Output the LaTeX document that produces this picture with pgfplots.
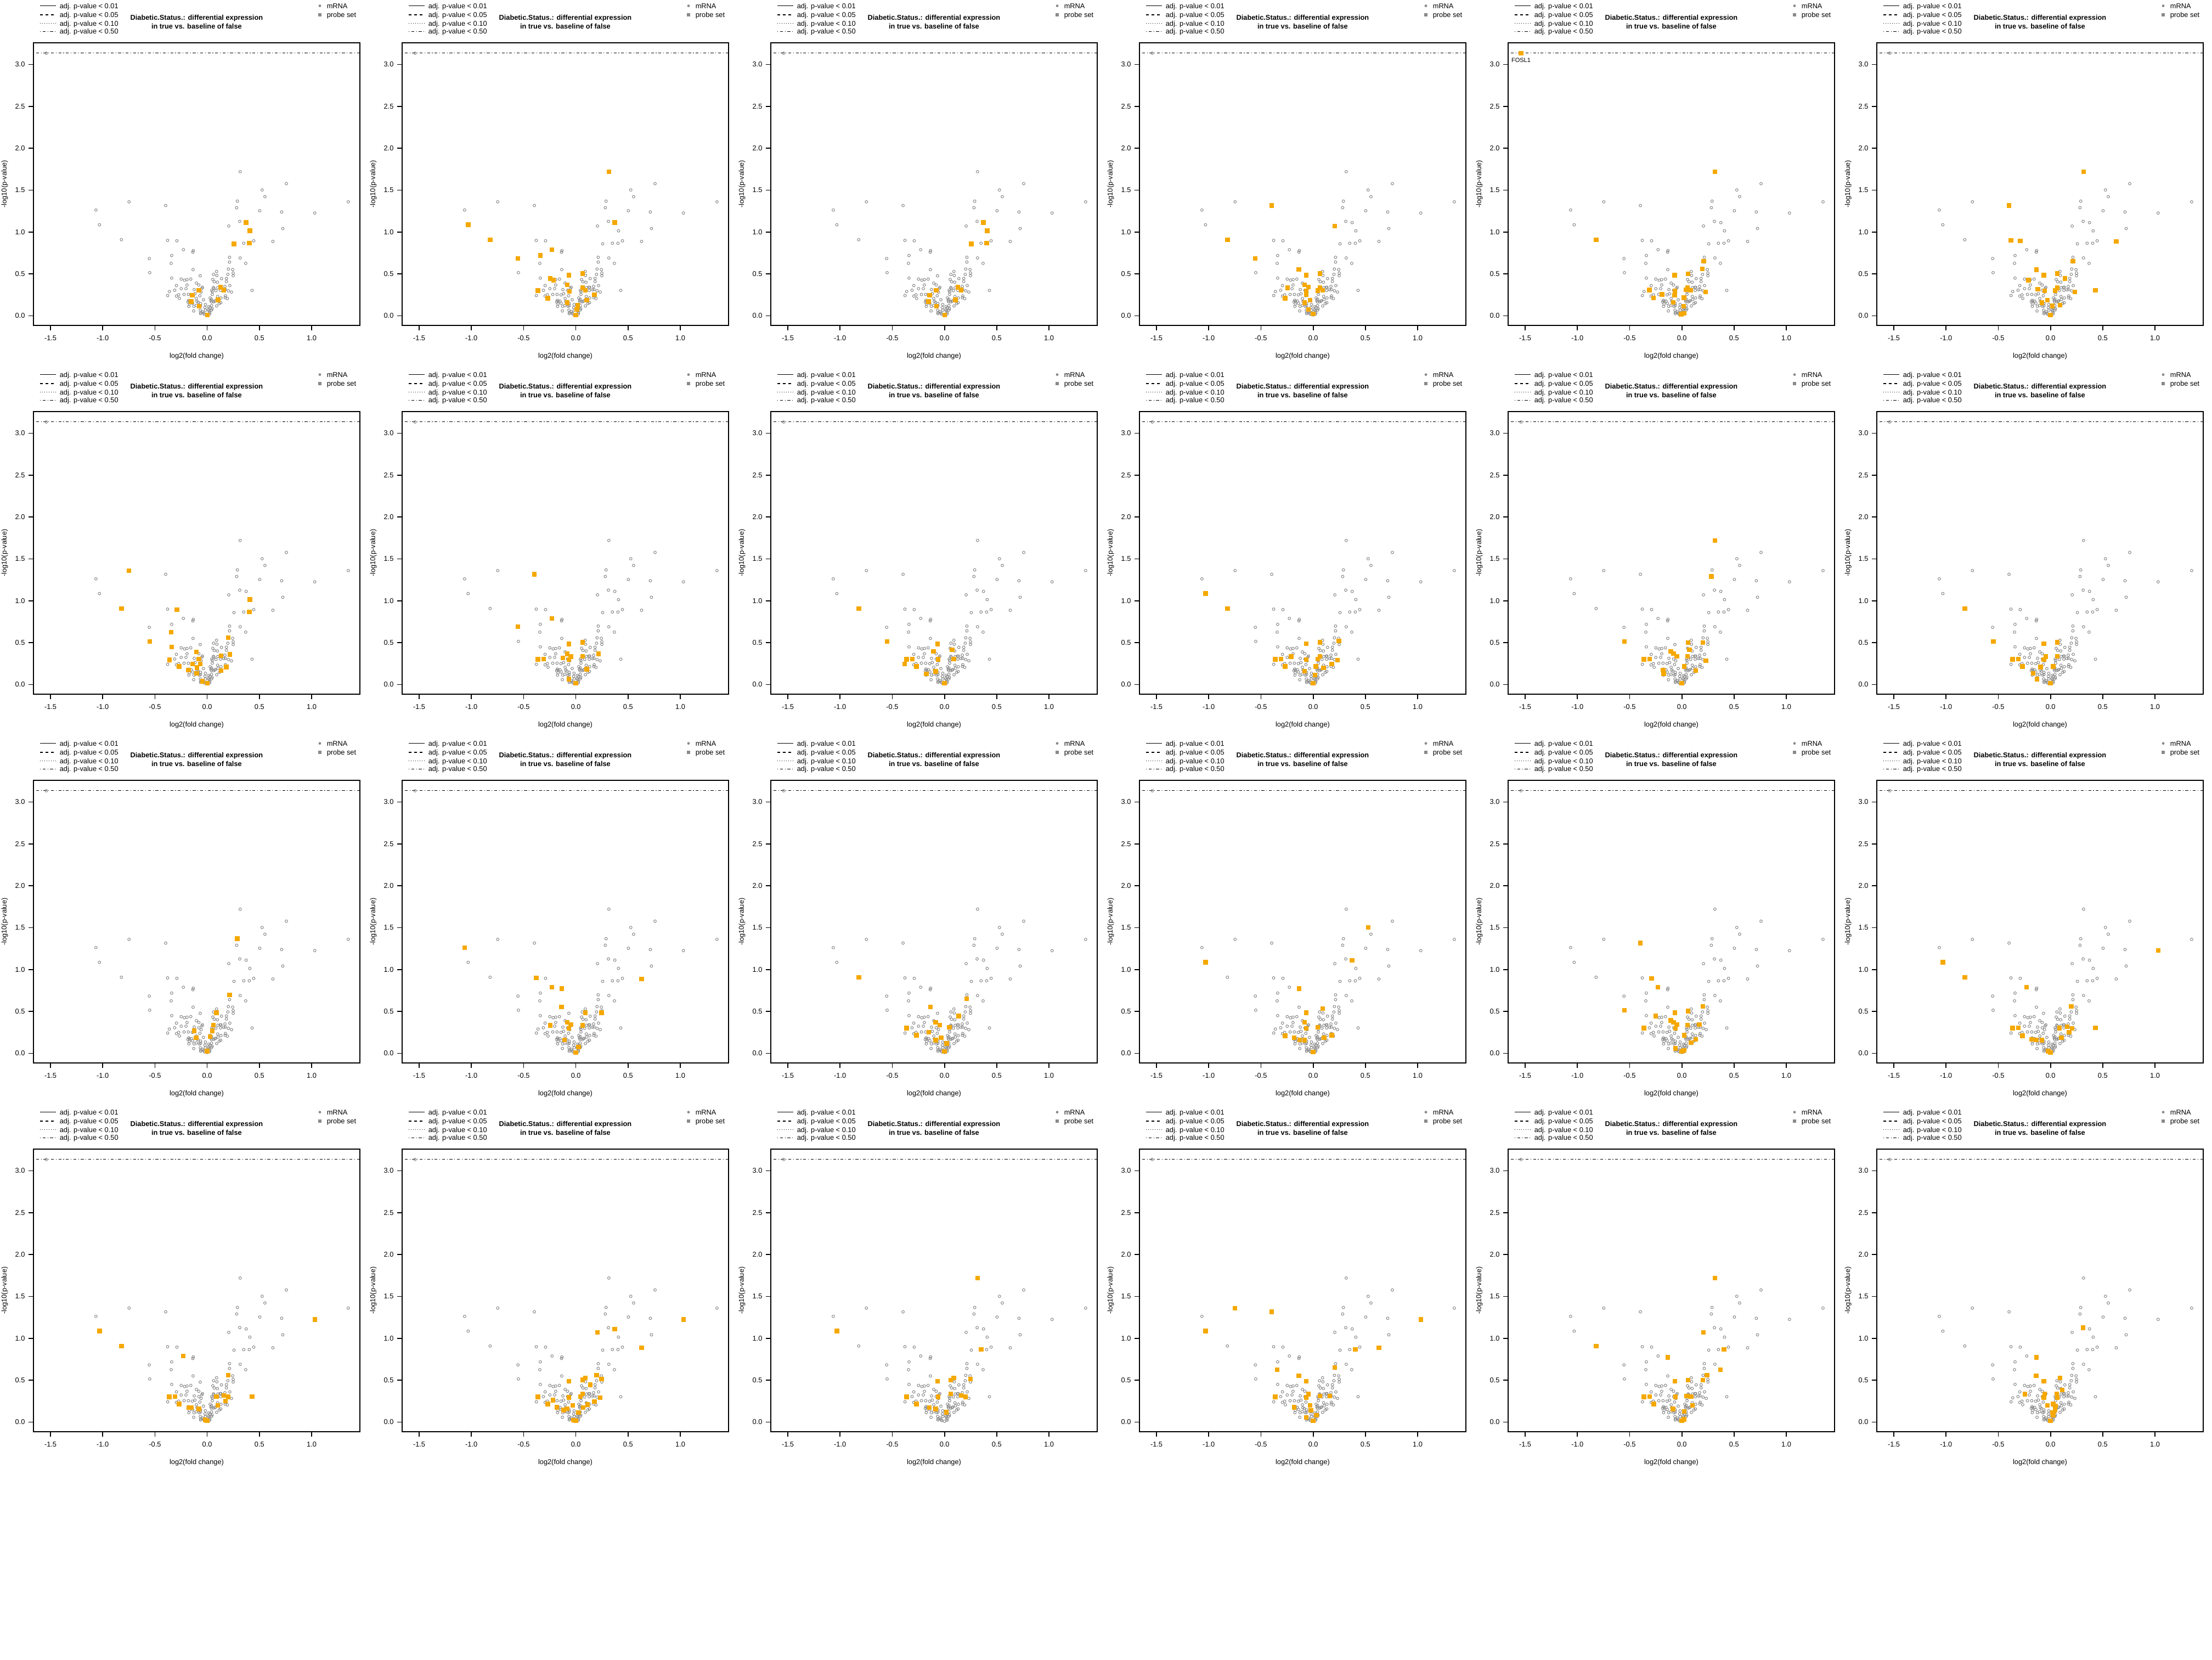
\documentclass[border=0pt]{standalone}
\usepackage{fontspec}
\setmainfont{Liberation Sans}
\usepackage{pgfplots}
\pgfplotsset{compat=1.18}
\usepackage{pgfplotstable}

\definecolor{ptgray}{RGB}{138,138,138}
\definecolor{hiorange}{RGB}{245,168,0}
\newcommand{\fsz}{\fontsize{3.2}{4.0}\selectfont}

% all probes (same in every panel)
\pgfplotstableread{
x y
-1.540 3.134
-1.065 1.262
-1.031 1.086
-0.821 0.908
-0.748 1.360
-0.554 0.683
-0.550 0.515
-0.397 1.316
-0.379 0.900
-0.290 0.895
-0.340 0.719
-0.345 0.626
-0.228 0.789
-0.133 0.778
-0.137 0.760
-0.135 0.551
-0.067 0.478
-0.340 0.450
0.316 1.720
0.758 1.577
0.526 1.502
0.553 1.422
0.289 1.368
0.282 1.290
0.503 1.254
0.713 1.239
1.351 1.360
1.030 1.226
0.312 1.127
0.207 1.071
0.724 1.042
0.350 0.866
0.446 0.895
0.629 0.887
0.214 0.698
0.316 0.690
0.214 0.641
0.369 0.626
0.430 0.303
0.373 1.112
0.408 1.014
0.257 0.859
0.403 0.866
0.203 0.558
0.244 0.552
0.090 0.529
0.249 0.510
0.061 0.494
0.093 0.481
0.198 0.494
0.249 0.479
-0.249 0.438
-0.217 0.425
-0.193 0.431
-0.157 0.438
0.054 0.433
0.137 0.444
0.184 0.446
0.068 0.407
0.098 0.401
0.184 0.409
-0.103 0.390
-0.080 0.368
-0.193 0.368
-0.294 0.361
0.217 0.361
-0.045 0.340
-0.051 0.327
0.060 0.337
0.065 0.327
0.102 0.335
0.125 0.340
0.170 0.351
0.174 0.313
-0.249 0.324
-0.203 0.324
-0.124 0.313
-0.311 0.305
-0.362 0.290
-0.378 0.242
-0.058 0.283
0.044 0.305
0.049 0.287
0.084 0.300
0.128 0.303
0.203 0.298
0.233 0.283
-0.273 0.250
-0.294 0.235
-0.221 0.255
-0.180 0.255
-0.117 0.263
-0.070 0.239
0.049 0.255
-0.266 0.207
-0.177 0.185
-0.170 0.172
-0.103 0.207
-0.035 0.191
0.028 0.213
0.042 0.198
0.035 0.183
0.100 0.231
0.132 0.213
0.175 0.237
0.172 0.216
0.193 0.205
0.072 0.174
-0.184 0.165
-0.171 0.141
-0.140 0.150
-0.098 0.172
-0.086 0.161
-0.063 0.146
-0.017 0.135
0.040 0.167
0.061 0.167
0.079 0.179
0.130 0.157
0.116 0.146
-0.175 0.113
-0.126 0.113
-0.105 0.124
-0.063 0.120
-0.021 0.098
0.014 0.109
0.025 0.095
0.042 0.122
0.091 0.117
-0.129 0.058
-0.066 0.067
-0.061 0.041
-0.044 0.048
-0.033 0.030
-0.016 0.067
0.012 0.072
0.018 0.058
0.025 0.037
0.042 0.069
0.047 0.085
-0.026 0.019
-0.063 0.026
0.023 0.021
0.000 0.010
-0.079 0.305
-0.142 0.250
-0.152 0.176
-0.075 0.113
0.104 0.194
0.158 0.311
0.132 0.340
}\graydata

% highlighted probes, one table per panel (row by row)
\pgfplotstableread{
x y
0.373 1.112
0.408 1.014
0.257 0.859
0.403 0.866
0.129 0.341
0.159 0.308
-0.080 0.303
-0.142 0.246
-0.153 0.171
-0.076 0.114
0.104 0.191
0.002 0.010
}\hlA
\pgfplotstableread{
x y
0.316 1.720
0.373 1.112
-1.031 1.086
-0.821 0.908
-0.554 0.683
-0.340 0.719
-0.228 0.789
0.065 0.505
-0.065 0.484
-0.246 0.446
-0.212 0.425
-0.082 0.371
0.065 0.333
0.091 0.306
-0.060 0.290
-0.363 0.301
-0.268 0.210
0.177 0.253
0.104 0.188
-0.082 0.156
0.017 0.124
0.009 0.075
0.000 0.011
}\hlB
\pgfplotstableread{
x y
-0.397 1.316
0.207 1.071
-0.821 0.908
-0.554 0.683
-0.138 0.554
-0.065 0.484
-0.246 0.333
-0.082 0.371
-0.047 0.344
-0.065 0.296
-0.065 0.253
0.065 0.505
0.065 0.333
0.043 0.301
0.091 0.306
-0.268 0.210
-0.030 0.188
-0.082 0.156
-0.047 0.075
0.000 0.022
}\hlD
\pgfplotstableread{
x y
-1.540 3.134
0.316 1.720
-0.821 0.908
0.210 0.650
0.196 0.559
0.060 0.502
-0.070 0.485
-0.311 0.307
-0.273 0.213
-0.189 0.255
-0.066 0.295
-0.070 0.244
-0.082 0.159
0.053 0.335
0.041 0.309
0.085 0.304
0.228 0.284
0.019 0.216
0.016 0.114
-0.006 0.020
0.019 0.028
}\hlE
\pgfplotstableread{
x y
0.316 1.720
-0.397 1.316
-0.379 0.900
-0.290 0.895
0.629 0.887
0.214 0.651
-0.135 0.551
0.065 0.505
-0.065 0.484
-0.212 0.425
0.137 0.444
-0.121 0.317
-0.056 0.296
0.043 0.301
0.065 0.333
0.233 0.285
0.430 0.303
-0.030 0.188
-0.082 0.156
0.017 0.118
0.091 0.129
0.000 0.011
}\hlF
\pgfplotstableread{
x y
-0.748 1.360
-0.821 0.908
-0.290 0.895
0.408 1.014
0.403 0.866
-0.550 0.515
-0.345 0.626
-0.340 0.450
0.203 0.558
-0.103 0.390
0.217 0.361
-0.362 0.295
-0.080 0.306
0.132 0.344
-0.067 0.247
-0.140 0.247
-0.269 0.215
-0.097 0.204
-0.179 0.172
-0.101 0.134
0.184 0.210
0.132 0.167
-0.045 0.038
0.003 0.016
}\hlG
\pgfplotstableread{
x y
-0.397 1.316
-0.554 0.690
-0.228 0.789
-0.067 0.484
0.065 0.505
-0.082 0.366
-0.047 0.333
-0.125 0.317
-0.065 0.296
0.065 0.339
0.216 0.366
-0.363 0.301
-0.307 0.306
0.104 0.183
-0.065 0.065
0.000 0.016
}\hlH
\pgfplotstableread{
x y
-0.821 0.908
-0.550 0.515
-0.067 0.484
-0.105 0.398
0.072 0.414
-0.364 0.301
-0.308 0.306
-0.382 0.247
-0.269 0.215
-0.062 0.301
0.089 0.306
-0.175 0.129
-0.084 0.156
0.000 0.016
}\hlI
\pgfplotstableread{
x y
-1.031 1.086
-0.821 0.908
-0.065 0.489
0.065 0.505
0.246 0.522
-0.363 0.301
-0.307 0.306
-0.212 0.333
-0.268 0.215
-0.065 0.296
0.043 0.306
0.065 0.339
0.233 0.290
-0.082 0.161
0.026 0.215
0.099 0.199
0.177 0.247
0.000 0.016
0.017 0.113
}\hlJ
\pgfplotstableread{
x y
0.316 1.720
0.282 1.290
-0.550 0.515
0.059 0.500
0.201 0.500
0.072 0.414
-0.105 0.398
-0.080 0.371
-0.049 0.339
0.054 0.339
-0.364 0.301
-0.308 0.306
0.231 0.285
0.024 0.215
0.132 0.167
-0.179 0.172
-0.175 0.129
0.000 0.016
}\hlK
\pgfplotstableread{
x y
-0.821 0.908
-0.548 0.515
-0.065 0.489
0.065 0.505
-0.363 0.301
-0.307 0.306
-0.268 0.215
-0.065 0.296
-0.047 0.333
0.065 0.339
-0.095 0.210
-0.168 0.134
-0.130 0.065
0.026 0.215
0.000 0.016
}\hlL
\pgfplotstableread{
x y
0.289 1.368
0.214 0.698
0.089 0.484
0.059 0.339
0.050 0.269
-0.123 0.269
-0.105 0.188
0.028 0.199
0.000 0.027
}\hlM
\pgfplotstableread{
x y
-1.065 1.262
-0.379 0.900
-0.228 0.789
-0.134 0.774
0.629 0.887
-0.138 0.554
0.091 0.484
0.246 0.484
-0.246 0.333
-0.082 0.371
-0.047 0.344
-0.065 0.296
0.065 0.333
-0.108 0.161
0.026 0.075
0.000 0.011
}\hlN
\pgfplotstableread{
x y
-0.821 0.908
0.211 0.651
-0.136 0.554
0.136 0.446
-0.084 0.371
-0.045 0.339
0.046 0.312
-0.364 0.301
-0.149 0.253
-0.269 0.215
-0.032 0.188
-0.084 0.156
0.020 0.118
0.000 0.022
}\hlO
\pgfplotstableread{
x y
0.526 1.502
0.373 1.112
-1.031 1.086
-0.134 0.774
-0.065 0.484
0.091 0.532
-0.082 0.371
-0.065 0.296
0.043 0.312
-0.268 0.210
-0.181 0.188
-0.130 0.161
-0.082 0.156
0.104 0.188
0.177 0.215
0.000 0.016
}\hlP
\pgfplotstableread{
x y
-0.397 1.316
-0.290 0.895
-0.228 0.789
-0.550 0.515
0.201 0.559
0.059 0.505
-0.067 0.484
-0.252 0.446
-0.105 0.392
-0.080 0.371
-0.049 0.344
-0.062 0.296
-0.364 0.301
0.054 0.339
0.167 0.344
0.024 0.215
0.132 0.167
0.089 0.129
-0.062 0.059
0.000 0.022
0.020 0.035
}\hlQ
\pgfplotstableread{
x y
-1.031 1.086
-0.821 0.908
-0.228 0.789
1.030 1.226
0.199 0.559
-0.363 0.301
-0.307 0.306
-0.268 0.210
-0.181 0.167
-0.138 0.161
-0.082 0.156
0.086 0.301
0.160 0.317
0.207 0.296
0.177 0.253
0.104 0.188
0.430 0.303
-0.022 0.027
0.000 0.011
}\hlR
\pgfplotstableread{
x y
-1.031 1.086
-0.821 0.908
-0.228 0.789
1.030 1.226
0.201 0.559
-0.364 0.301
-0.308 0.306
-0.269 0.215
-0.175 0.172
-0.149 0.172
-0.080 0.156
0.089 0.306
0.158 0.317
0.201 0.301
0.102 0.199
0.175 0.253
0.430 0.303
-0.019 0.027
0.000 0.016
}\hlS
\pgfplotstableread{
x y
0.207 1.071
0.373 1.112
0.629 0.887
1.030 1.226
-0.065 0.489
0.065 0.505
0.091 0.527
0.138 0.446
0.199 0.559
0.246 0.516
-0.363 0.301
-0.220 0.263
-0.268 0.215
-0.181 0.177
-0.117 0.145
-0.065 0.296
0.043 0.306
0.065 0.339
0.233 0.290
-0.082 0.161
-0.030 0.199
0.177 0.247
0.026 0.113
0.069 0.172
0.112 0.210
-0.022 0.022
0.000 0.016
}\hlT
\pgfplotstableread{
x y
-1.031 1.086
0.316 1.720
0.350 0.866
0.089 0.527
0.059 0.500
-0.067 0.489
0.249 0.516
-0.364 0.301
-0.062 0.301
0.059 0.339
0.158 0.317
0.201 0.301
-0.269 0.215
-0.145 0.172
-0.084 0.156
0.016 0.118
}\hlU
\pgfplotstableread{
x y
-0.748 1.360
-0.397 1.316
-1.031 1.086
1.030 1.226
0.403 0.866
0.629 0.887
0.207 0.651
-0.345 0.626
-0.138 0.554
-0.065 0.489
-0.363 0.301
-0.065 0.296
-0.047 0.333
0.065 0.312
0.160 0.312
-0.181 0.177
-0.030 0.199
-0.022 0.140
-0.065 0.054
0.030 0.081
0.000 0.016
}\hlV
\pgfplotstableread{
x y
0.316 1.720
0.207 1.071
0.403 0.866
-0.821 0.908
-0.136 0.774
0.369 0.626
0.240 0.559
-0.067 0.489
0.059 0.500
0.201 0.500
-0.364 0.301
-0.308 0.306
-0.269 0.215
-0.062 0.301
0.046 0.312
0.089 0.306
-0.084 0.156
0.102 0.199
0.024 0.129
0.020 0.032
0.000 0.016
}\hlW
\pgfplotstableread{
x y
0.312 1.127
-0.134 0.774
-0.138 0.554
-0.065 0.489
0.091 0.527
-0.246 0.333
-0.056 0.339
-0.065 0.296
0.060 0.339
0.065 0.296
0.112 0.382
-0.030 0.199
0.026 0.215
0.047 0.194
0.043 0.140
0.017 0.113
0.026 0.086
0.000 0.016
}\hlX

\pgfplotsset{
  volcano/.style={
    scale only axis, width=148.75pt, height=128.75pt,
    xmin=-1.663, xmax=1.462, ymin=-0.115, ymax=3.258,
    axis line style={line width=0.42pt},
    tick style={black, line width=0.42pt},
    major tick length=2.3pt, tick align=outside,
    xtick pos=bottom, ytick pos=left,
    xtick={-1.5,-1,-0.5,0,0.5,1},
    xticklabels={-1.5,-1.0,-0.5,0.0,0.5,1.0},
    ytick={0,0.5,1,1.5,2,2.5,3},
    yticklabels={0.0,0.5,1.0,1.5,2.0,2.5,3.0},
    tick label style={font=\fsz},
    xticklabel style={anchor=north, inner sep=0pt, yshift=-2.2pt},
    yticklabel style={anchor=east, inner sep=0pt, xshift=-1.4pt},
    xlabel={log2(fold change)}, ylabel={-log10(p-value)},
    label style={font=\fsz},
    xlabel style={at={(axis description cs:0.5,-0.1087)}, anchor=center, inner sep=0pt},
    ylabel style={at={(axis description cs:-0.088,0.5)}, anchor=center, inner sep=0pt},
    clip=false,
  }
}

% #1 column, #2 row, #3 highlighted table, #4 extra code in the axis
\newcommand{\panel}[4]{%
  \begin{axis}[volcano, at={({#1*168pt+15.25pt},{-#2*168pt-148.25pt})}, anchor=south west]
    \addplot[only marks, mark=o, mark size=0.6pt, draw=ptgray, mark options={line width=0.25pt}] table {\graydata};
    \addplot[only marks, mark=square*, mark size=0.85pt, color=hiorange] table {#3};
    \addplot[black, line width=0.33pt, dash pattern=on 0.3pt off 0.9pt on 1.3pt off 0.9pt]
      coordinates {(-1.663,3.135) (1.462,3.135)};
    #4
  \end{axis}
  \begin{scope}[shift={({#1*168pt},{-#2*168pt})}]
    \draw[line width=0.3pt] (18.25pt,-2.65pt) -- (25.45pt,-2.65pt);
    \draw[line width=0.3pt, dash pattern=on 1.25pt off 1.25pt] (18.25pt,-6.75pt) -- (25.45pt,-6.75pt);
    \draw[line width=0.3pt, dash pattern=on 0.25pt off 0.75pt] (18.25pt,-10.6pt) -- (25.45pt,-10.6pt);
    \draw[line width=0.3pt, dash pattern=on 0.3pt off 0.9pt on 1.3pt off 0.9pt] (18.25pt,-14.3pt) -- (25.45pt,-14.3pt);
    \node[anchor=base west, inner sep=0pt, font=\fsz] at (27pt,-3.8pt) {adj. p-value < 0.01};
    \node[anchor=base west, inner sep=0pt, font=\fsz] at (27pt,-7.9pt) {adj. p-value < 0.05};
    \node[anchor=base west, inner sep=0pt, font=\fsz] at (27pt,-11.75pt) {adj. p-value < 0.10};
    \node[anchor=base west, inner sep=0pt, font=\fsz] at (27pt,-15.45pt) {adj. p-value < 0.50};
    \node[align=center, inner sep=0pt, font=\fsz\bfseries] at (89.6pt,-10pt)
      {Diabetic.Status.: differential expression\\in true vs. baseline of false};
    \fill[ptgray] (145.75pt,-2.65pt) circle (0.6pt);
    \fill[ptgray] (145.1pt,-7.4pt) rectangle (146.4pt,-6.1pt);
    \node[anchor=base west, inner sep=0pt, font=\fsz] at (148.75pt,-3.8pt) {mRNA};
    \node[anchor=base west, inner sep=0pt, font=\fsz] at (148.75pt,-7.9pt) {probe set};
  \end{scope}
}

\begin{document}
\begin{tikzpicture}
  \useasboundingbox (0pt,0pt) rectangle (1008pt,-756pt);
  \panel{0}{0}{\hlA}{}
  \panel{1}{0}{\hlB}{}
  \panel{2}{0}{\hlA}{}
  \panel{3}{0}{\hlD}{}
  \panel{4}{0}{\hlE}{\node[font=\fontsize{2.75}{3}\selectfont, inner sep=0pt] at (axis cs:-1.54,3.135) [yshift=-3.3pt] {FOSL1};}
  \panel{5}{0}{\hlF}{}
  \panel{0}{1}{\hlG}{}
  \panel{1}{1}{\hlH}{}
  \panel{2}{1}{\hlI}{}
  \panel{3}{1}{\hlJ}{}
  \panel{4}{1}{\hlK}{}
  \panel{5}{1}{\hlL}{}
  \panel{0}{2}{\hlM}{}
  \panel{1}{2}{\hlN}{}
  \panel{2}{2}{\hlO}{}
  \panel{3}{2}{\hlP}{}
  \panel{4}{2}{\hlQ}{}
  \panel{5}{2}{\hlR}{}
  \panel{0}{3}{\hlS}{}
  \panel{1}{3}{\hlT}{}
  \panel{2}{3}{\hlU}{}
  \panel{3}{3}{\hlV}{}
  \panel{4}{3}{\hlW}{}
  \panel{5}{3}{\hlX}{}
\end{tikzpicture}
\end{document}
